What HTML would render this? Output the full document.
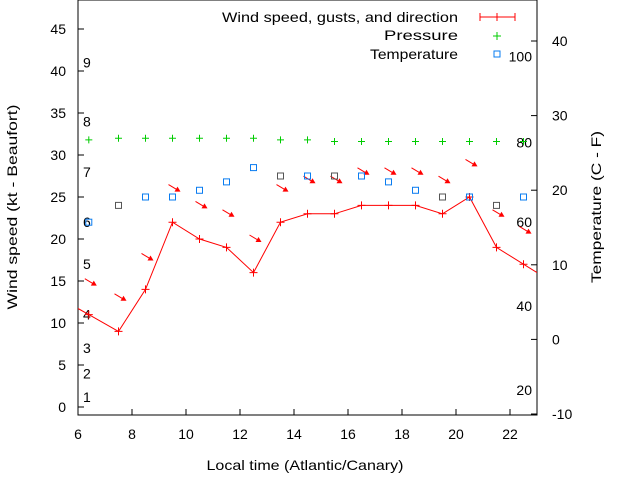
<!DOCTYPE html>
<html><head><meta charset="utf-8"><style>
body{margin:0;background:#fff}
svg{display:block;font-family:"Liberation Sans",sans-serif;font-size:14px}
</style></head><body>
<svg id="c" width="640" height="480" xmlns="http://www.w3.org/2000/svg">
<defs><clipPath id="clip"><rect x="78" y="0" width="459" height="415"/></clipPath></defs>
<rect x="78" y="0" width="459" height="415" fill="none" stroke="#000"/>
<g id="axes"></g>
<g id="marks" clip-path="url(#clip)"></g>
<text x="17" y="207" transform="rotate(-90 17 207)" text-anchor="middle" textLength="205" lengthAdjust="spacingAndGlyphs">Wind speed (kt - Beaufort)</text>
<text x="601" y="207" transform="rotate(-90 601 207)" text-anchor="middle" textLength="152" lengthAdjust="spacingAndGlyphs">Temperature (C - F)</text>
<text x="305" y="470" text-anchor="middle" textLength="197" lengthAdjust="spacingAndGlyphs">Local time (Atlantic/Canary)</text>
<g>
<text x="222" y="22" textLength="236" lengthAdjust="spacingAndGlyphs">Wind speed, gusts, and direction</text>
<line x1="480" y1="17" x2="515" y2="17" stroke="red"/><line x1="480" y1="13" x2="480" y2="21" stroke="red"/><line x1="515" y1="13" x2="515" y2="21" stroke="red"/><line x1="493" y1="17" x2="501" y2="17" stroke="red"/><line x1="497" y1="13" x2="497" y2="21" stroke="red"/>
<text x="384" y="40" textLength="74" lengthAdjust="spacingAndGlyphs">Pressure</text>
<path d="M493 36h8M497 32v8" stroke="#0c0"/>
<text x="370" y="59" textLength="88" lengthAdjust="spacingAndGlyphs">Temperature</text>
<rect x="494" y="51" width="6" height="6" fill="none" stroke="#0a7cf0"/>
</g>
</svg>
<script>
const hours=[6.4,7.5,8.5,9.5,10.5,11.5,12.5,13.5,14.5,15.5,16.5,17.5,18.5,19.5,20.5,21.5,22.5];
const wind=[11,9,14,22,20,19,16,22,23,23,24,24,24,23,25,19,17];
const pressure=[31.8,32,32,32,32,32,32,31.8,31.8,31.6,31.6,31.6,31.6,31.6,31.6,31.6,31.6];
const temperature=[22,24,25,25,25.8,26.8,28.5,27.5,27.5,27.5,27.5,26.8,25.8,25,25,24,25];
const tempGray=[0,1,0,0,0,0,0,1,0,1,0,0,0,1,0,1,0];
const arrowY=[14.8,13,17.8,26,24,23,20,26,27,27,28,28,28,27,29,23,21];
const xTicks=[6,8,10,12,14,16,18,20,22];
const yTicks=[0,5,10,15,20,25,30,35,40,45];
const y2Ticks=[-10,0,10,20,30,40];
const beaufort=[[1,1.2],[2,4],[3,7],[4,11],[5,17],[6,22],[7,28],[8,34],[9,41]];
const fahr=[[20,2],[40,12],[60,22],[80,31.5],[100,41.7]];
const NS="http://www.w3.org/2000/svg";
const X=v=>78+(v-6)*27;
const Y=v=>407-v*8.4;
const Y2=v=>414-(v+10)*7.46;
function mk(tag,at,parent,txt){const e=document.createElementNS(NS,tag);for(const k in at)e.setAttribute(k,at[k]);if(txt!==undefined)e.textContent=txt;parent.appendChild(e);return e;}
const ax=document.getElementById('axes'),mg=document.getElementById('marks');
xTicks.forEach(t=>{mk('line',{x1:X(t),y1:415,x2:X(t),y2:409,stroke:'#000'},ax);
const l=mk('text',{x:X(t),y:439,'text-anchor':'middle'},ax,t);

});
yTicks.forEach(t=>{mk('line',{x1:78,y1:Y(t),x2:84,y2:Y(t),stroke:'#000'},ax);
const l=mk('text',{x:66,y:Y(t)+5,'text-anchor':'end'},ax,t);

});
y2Ticks.forEach(t=>{mk('line',{x1:531,y1:Y2(t),x2:537,y2:Y2(t),stroke:'#000'},ax);
const l=mk('text',{x:552,y:Y2(t)+5},ax,t);

});
beaufort.forEach(b=>{const l=mk('text',{x:83,y:Y(b[1])+5},ax,b[0]);

});
fahr.forEach(f=>{const l=mk('text',{x:532,y:Y(f[1])+5,'text-anchor':'end'},ax,f[0]);

});
let pts=hours.map((h,i)=>[X(h),Y(wind[i])]);
const s0=(wind[1]-wind[0])/(hours[1]-hours[0]);
const n=hours.length,s1=(wind[n-1]-wind[n-2])/(hours[n-1]-hours[n-2]);
pts.unshift([X(6),Y(wind[0]-s0*(hours[0]-6))]);
pts.push([X(23),Y(wind[n-1]+s1*(23-hours[n-1]))]);
const wl=mk('polyline',{points:pts.map(p=>p.join(',')).join(' '),fill:'none',stroke:'red'},mg);


hours.forEach((h,i)=>{const x=X(h),y=Y(wind[i]);
const p=mk('path',{d:`M${x-4} ${y}h8M${x} ${y-4}v8`,stroke:'red'},mg);


const ay=Y(arrowY[i]);
const a=mk('path',{d:`M${x-4} ${ay-4}L${x+6} ${ay+2}`,stroke:'red'},mg);


const hd=mk('path',{d:`M${x+8} ${ay+3}L${x+2} ${ay+3}L${x+5} ${ay-2}Z`,fill:'red'},mg);


const pp=mk('path',{d:`M${x-3.5} ${Y(pressure[i])}h7M${x} ${Y(pressure[i])-3.5}v7`,stroke:'#0c0'},mg);


const tr=mk('rect',{x:x-3,y:Y(temperature[i])-3,width:6,height:6,fill:'none',stroke:tempGray[i]?'#555':'#0a7cf0'},mg);

});
</script>
</body></html>
